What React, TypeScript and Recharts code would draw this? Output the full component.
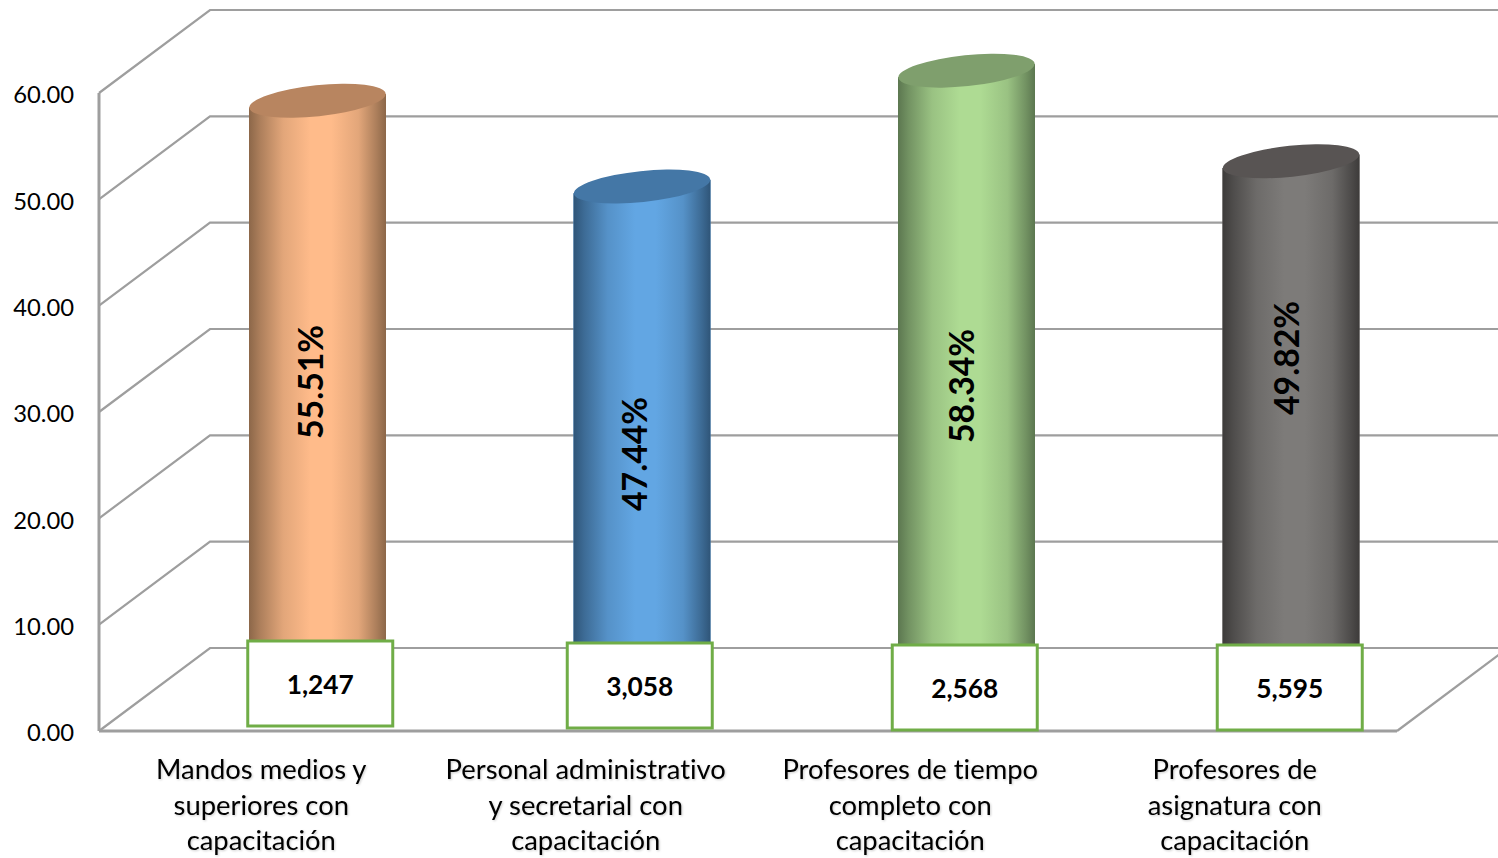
import { Bar, BarChart, CartesianGrid, LabelList, XAxis, YAxis } from "recharts";

const categories = [
  "Mandos medios y\nsuperiores con\ncapacitación",
  "Personal administrativo\ny secretarial con\ncapacitación",
  "Profesores de tiempo\ncompleto con\ncapacitación",
  "Profesores de\nasignatura con\ncapacitación",
];
const percentages = [55.51, 47.44, 58.34, 49.82];
const counts = ["1,247", "3,058", "2,568", "5,595"];
const yTicks = [0, 10, 20, 30, 40, 50, 60];

const data = categories.map((name, i) => ({
  name,
  value: percentages[i],
  count: counts[i],
}));

// light / dark side / cap
const colors = [
  ["#FFBB8A", "#8C6749", "#B88560"],
  ["#62A6E3", "#2F5578", "#4477A6"],
  ["#AEDB93", "#5C7750", "#7F9F6D"],
  ["#7D7B79", "#3D3B3A", "#585453"],
];

// 3d depth of the walls, bars stand half way in
const DEPTH_X = 111;
const DEPTH_Y = 83;
const BAR_DX = 56;
const BAR_DY = 40;

// the count boxes and rotated labels were placed by hand in the original
const boxDx = [58.75, 53.75, 54.25, 54.75];
const boxRise = [90, 88, 86, 86];
const labelDx = [48, 48, 50, 51];
const labelRise = [349, 277, 345, 373];

const FONT = "Lato, sans-serif";
const GRID = "#9E9E9E";

const gridLine = (props: any) => {
  const { x1, y1, x2, y2 } = props;
  const isFloor = y1 > 700;
  return (
    <g key={`grid-${y1}`}>
      <polyline
        points={`${x1},${y1} ${x1 + DEPTH_X},${y1 - DEPTH_Y} ${x2 + DEPTH_X},${y2 - DEPTH_Y}`}
        fill="none"
        stroke={GRID}
        strokeWidth={2.2}
      />
      {isFloor && (
        <line x1={x2} y1={y2} x2={x2 + DEPTH_X} y2={y2 - DEPTH_Y} stroke={GRID} strokeWidth={2.2} />
      )}
    </g>
  );
};

const Cylinder = (props: any) => {
  const { x, y, width, height, index } = props;
  const [light, dark, cap] = colors[index];
  const left = x + BAR_DX;
  const right = left + width;
  const top = y - BAR_DY;
  const bottom = y + height - BAR_DY;
  const id = `cyl-${index}`;
  const body = `M${left},${top + 6.7} L${left},${bottom} L${right},${bottom} L${right},${top - 6.7} Z`;
  return (
    <g>
      <defs>
        <linearGradient id={id} x1="0" x2="1" y1="0" y2="0">
          <stop offset="0" stopColor={dark} />
          <stop offset="0.08" stopColor={dark} stopOpacity={0.72} />
          <stop offset="0.25" stopColor={dark} stopOpacity={0.25} />
          <stop offset="0.45" stopColor={dark} stopOpacity={0} />
          <stop offset="0.6" stopColor={dark} stopOpacity={0} />
          <stop offset="0.8" stopColor={dark} stopOpacity={0.25} />
          <stop offset="0.93" stopColor={dark} stopOpacity={0.72} />
          <stop offset="1" stopColor={dark} />
        </linearGradient>
      </defs>
      <path d={body} fill={light} />
      <path d={body} fill={`url(#${id})`} />
      <ellipse
        cx={left + width / 2}
        cy={top}
        rx={68.5}
        ry={15.5}
        fill={cap}
        transform={`rotate(-6 ${left + width / 2} ${top})`}
      />
    </g>
  );
};

const PercentLabel = (props: any) => {
  const { x, y, width, height, index, value } = props;
  const cx = x + width / 2 + labelDx[index];
  const cy = y + height - labelRise[index];
  return (
    <text
      x={cx}
      y={cy}
      transform={`rotate(-90 ${cx} ${cy})`}
      textAnchor="middle"
      dominantBaseline="central"
      fontFamily={FONT}
      fontWeight={700}
      fontSize={33.8}
      fill="#000"
    >
      {`${Number(value).toFixed(2)}%`}
    </text>
  );
};

const CountBox = (props: any) => {
  const { x, y, width, height, index, value } = props;
  const cx = x + width / 2 + boxDx[index];
  const boxTop = y + height - boxRise[index];
  return (
    <g>
      <rect x={cx - 72.5} y={boxTop} width={145} height={85} fill="#fff" stroke="#70AD47" strokeWidth={3} />
      <text
        x={cx}
        y={boxTop + 43}
        textAnchor="middle"
        dominantBaseline="central"
        fontFamily={FONT}
        fontWeight={700}
        fontSize={26.3}
        fill="#000"
      >
        {value}
      </text>
    </g>
  );
};

const CategoryTick = (props: any) => {
  const { x, y, payload } = props;
  return (
    <text
      x={x}
      y={y}
      textAnchor="middle"
      fontFamily={FONT}
      fontSize={27.4}
      fill="#000"
      style={{ fontVariantLigatures: "none", filter: "drop-shadow(1px 1px 1px rgba(0,0,0,0.2))" }}
    >
      {String(payload.value)
        .split("\n")
        .map((line, i) => (
          <tspan key={i} x={x} y={y + 40 + i * 35.5}>
            {line}
          </tspan>
        ))}
    </text>
  );
};

export default function App() {
  return (
    <div style={{ position: "absolute", left: 0, top: 0, width: 1498, height: 858, overflow: "hidden" }}>
      <BarChart
        width={1498}
        height={858}
        data={data}
        barSize={137}
        margin={{ top: 93, right: 101, bottom: 0, left: 0 }}
        style={{ overflow: "visible" }}
      >
        <CartesianGrid vertical={false} horizontal={gridLine} />
        <YAxis
          width={99}
          domain={[0, 60]}
          ticks={yTicks}
          interval={0}
          tickLine={false}
          tickMargin={19}
          tickFormatter={(v: number) => v.toFixed(2)}
          axisLine={{ stroke: GRID, strokeWidth: 3 }}
          tick={{ fontFamily: FONT, fontSize: 23.8, fill: "#000", dy: 2 }}
        />
        <XAxis
          dataKey="name"
          height={127}
          interval={0}
          tickLine={false}
          axisLine={{ stroke: GRID, strokeWidth: 3 }}
          tick={<CategoryTick />}
        />
        <Bar dataKey="value" isAnimationActive={false} shape={<Cylinder />}>
          <LabelList dataKey="value" content={<PercentLabel />} />
          <LabelList dataKey="count" content={<CountBox />} />
        </Bar>
      </BarChart>
    </div>
  );
}
